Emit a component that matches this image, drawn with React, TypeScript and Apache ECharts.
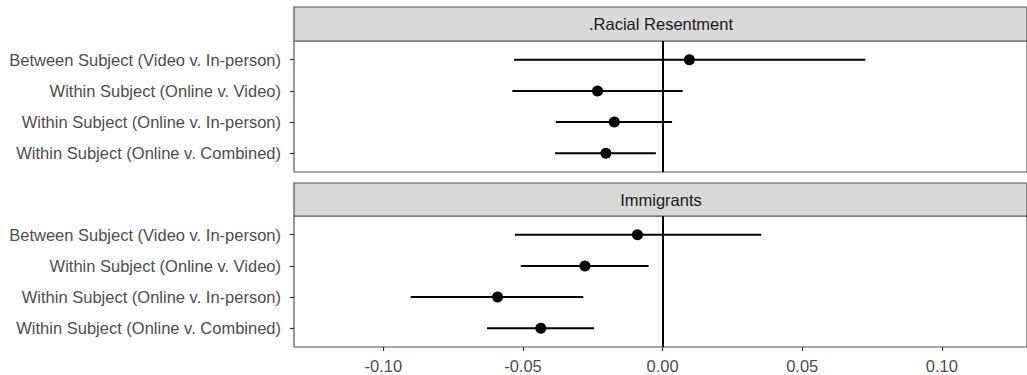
import React, { useEffect, useRef } from "react";
import * as echarts from "echarts";

const categories = [
  "Between Subject (Video v. In-person)",
  "Within Subject (Online v. Video)",
  "Within Subject (Online v. In-person)",
  "Within Subject (Online v. Combined)",
];
const panelTitles = [".Racial Resentment", "Immigrants"];

const racialEst = [0.0096, -0.0233, -0.0173, -0.0203];
const racialLo = [-0.0532, -0.0538, -0.0382, -0.0385];
const racialHi = [0.0726, 0.0072, 0.0034, -0.0024];

const immEst = [-0.009, -0.0278, -0.0591, -0.0436];
const immLo = [-0.0529, -0.0508, -0.0902, -0.0629];
const immHi = [0.0353, -0.005, -0.0284, -0.0245];

const xTicks = [-0.1, -0.05, 0, 0.05, 0.1];
const catPos = [0, 1, 2, 3];

const FONT = "'Liberation Sans', Arial, Helvetica, sans-serif";
const FS = 16.5;
const TEXT = "#4d4d4d";
const BORDER = "#555555";

export default function App() {
  const ref = useRef<HTMLDivElement>(null);
  useEffect(() => {
    if (!ref.current) return;
    const chart = echarts.init(ref.current, null, { renderer: "svg" });

    const panels = [
      { est: racialEst, lo: racialLo, hi: racialHi },
      { est: immEst, lo: immLo, hi: immHi },
    ];
    const grids = [
      { left: 294, top: 41, width: 733, height: 131 },
      { left: 294, top: 216, width: 733, height: 131 },
    ];
    const headers = [
      { top: 7, h: 34 },
      { top: 183, h: 33 },
    ];

    const xAxes = grids.map((_, i) => ({
      type: "value",
      gridIndex: i,
      position: "bottom",
      min: -0.132,
      max: 0.1305,
      axisLine: { show: false, onZero: false },
      splitLine: { show: false },
      axisTick: {
        show: i === 1,
        customValues: xTicks,
        length: 4,
        lineStyle: { color: "#333", width: 1.2 },
      },
      axisLabel: {
        show: i === 1,
        customValues: xTicks,
        formatter: (v: number) => v.toFixed(2),
        color: TEXT,
        fontFamily: FONT,
        fontSize: FS,
        margin: 10,
      },
    }));

    const yAxes = grids.map((_, i) => ({
      type: "value",
      gridIndex: i,
      position: "left",
      min: -0.6,
      max: 3.6,
      inverse: true,
      axisLine: { show: false, onZero: false },
      splitLine: { show: false },
      axisTick: {
        show: true,
        customValues: catPos,
        length: 4,
        lineStyle: { color: "#333", width: 1.2 },
      },
      axisLabel: {
        customValues: catPos,
        formatter: (v: number) => categories[Math.round(v)] ?? "",
        color: TEXT,
        fontFamily: FONT,
        fontSize: FS,
        margin: 13,
      },
    }));

    const series: any[] = [];
    panels.forEach((p, i) => {
      series.push({
        type: "custom",
        xAxisIndex: i,
        yAxisIndex: i,
        encode: { x: [0, 1], y: 2 },
        data: p.lo.map((lo, k) => [lo, p.hi[k], k]),
        renderItem: (_params: any, api: any) => {
          const a = api.coord([api.value(0), api.value(2)]);
          const b = api.coord([api.value(1), api.value(2)]);
          return {
            type: "line",
            shape: { x1: a[0], y1: a[1], x2: b[0], y2: b[1] },
            style: { stroke: "#000", lineWidth: 2 },
          };
        },
        z: 2,
      });
      series.push({
        type: "scatter",
        xAxisIndex: i,
        yAxisIndex: i,
        symbolSize: 11,
        itemStyle: { color: "#000", opacity: 1 },
        data: p.est.map((e, k) => [e, k]),
        z: 3,
        markLine: {
          silent: true,
          symbol: "none",
          label: { show: false },
          lineStyle: { color: "#000", width: 2, type: "solid", opacity: 1 },
          data: [{ xAxis: 0 }],
        },
      });
    });

    const graphic: any[] = [];
    headers.forEach((h, i) => {
      graphic.push({
        type: "rect",
        shape: { x: 294, y: h.top, width: 733, height: h.h },
        style: { fill: "#d9d9d9", stroke: BORDER, lineWidth: 1.2 },
      });
      graphic.push({
        type: "text",
        x: 661,
        y: h.top + h.h / 2,
        style: {
          text: panelTitles[i],
          fill: "#1a1a1a",
          font: `${FS}px ${FONT}`,
          textAlign: "center",
          textVerticalAlign: "middle",
        },
      });
    });

    chart.setOption({
      animation: false,
      backgroundColor: "#ffffff",
      grid: grids.map((g) => ({
        ...g,
        show: true,
        backgroundColor: "#ffffff",
        borderColor: BORDER,
        borderWidth: 1.2,
      })),
      xAxis: xAxes,
      yAxis: yAxes,
      series,
      graphic,
    });

    return () => chart.dispose();
  }, []);

  return (
    <div
      ref={ref}
      style={{ position: "fixed", left: 0, top: 0, width: 1027, height: 375, background: "#fff" }}
    />
  );
}
